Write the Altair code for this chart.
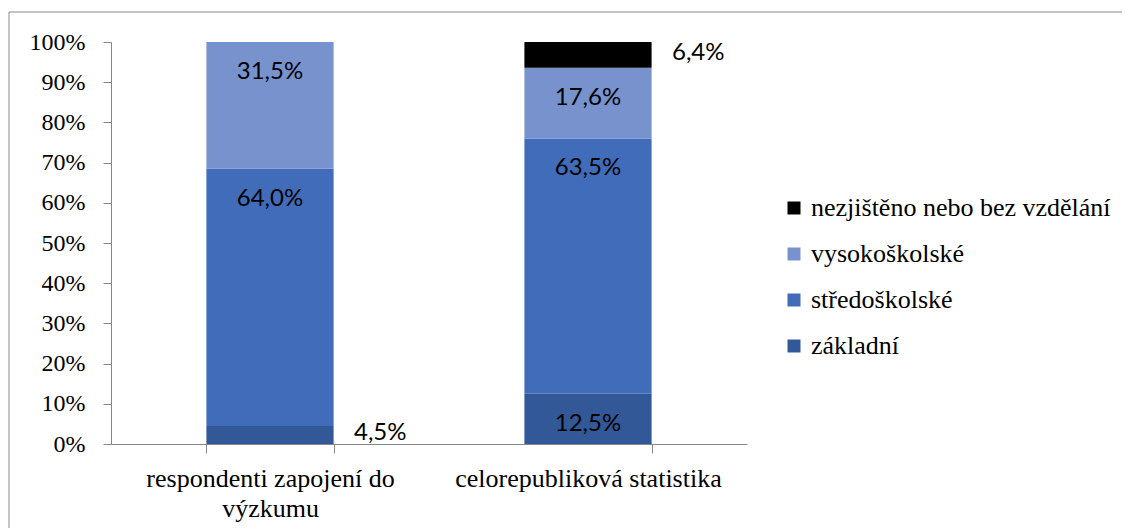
import altair as alt
import pandas as pd

categories = ["respondenti zapojení do výzkumu", "celorepubliková statistika"]
levels = ["základní", "středoškolské", "vysokoškolské", "nezjištěno nebo bez vzdělání"]  # bottom -> top
values_respondenti = [4.5, 64.0, 31.5, 0.0]
values_celorep = [12.5, 63.5, 17.6, 6.4]
colors = ["#325898", "#406CB9", "#7892CE", "#000000"]
y_ticks = [0, 10, 20, 30, 40, 50, 60, 70, 80, 90, 100]

rows = []
for cat, vals in zip(categories, [values_respondenti, values_celorep]):
    for i, (lev, v) in enumerate(zip(levels, vals)):
        if v > 0:
            rows.append({"cat": cat, "level": lev, "value": v, "rank": i})
df = pd.DataFrame(rows)

AXIS_GREY = "#868686"
SERIF = "Liberation Serif"
SANS = "Lato"

W, H = 636, 402

base = alt.Chart(df).transform_stack(
    stack="value", groupby=["cat"], sort=[alt.SortField("rank", order="ascending")],
    as_=["y0", "y1"]
).transform_calculate(
    lab="replace(format(datum.value, '.1f'), '.', ',') + '%'",
    ymid="(datum.y0 + datum.y1) / 2",
)

xenc = alt.X(
    "cat:N",
    sort=categories,
    scale=alt.Scale(paddingInner=0.6, paddingOuter=0.3),
    axis=alt.Axis(
        title=None, labelAngle=0, labelFont=SERIF, labelFontSize=26, labelColor="black",
        labelExpr="datum.label == 'respondenti zapojení do výzkumu' ? ['respondenti zapojení do', 'výzkumu'] : datum.label",
        labelLineHeight=30, labelPadding=12, tickSize=9, tickBand="extent", labelLimit=500,
        domainColor=AXIS_GREY, tickColor=AXIS_GREY, labelBaseline="top",
    ),
)

bars = base.mark_bar(stroke=None).encode(
    x=xenc,
    y=alt.Y(
        "y0:Q",
        scale=alt.Scale(domain=[0, 100], nice=False),
        axis=alt.Axis(
            title=None, values=y_ticks, labelExpr="datum.value + '%'", grid=False,
            labelFont=SERIF, labelFontSize=24, labelColor="black", labelPadding=18,
            tickSize=8, domainColor=AXIS_GREY, tickColor=AXIS_GREY,
        ),
    ),
    y2="y1:Q",
    color=alt.Color(
        "level:N",
        scale=alt.Scale(domain=levels[::-1], range=colors[::-1]),
        legend=alt.Legend(
            title=None, orient="none", legendX=670, legendY=153, symbolType="square",
            symbolSize=169, symbolStrokeWidth=0, labelFont=SERIF, labelFontSize=26,
            labelColor="black", rowPadding=20, labelOffset=4, labelLimit=500,
        ),
    ),
)

inside = base.transform_filter("datum.value >= 10").mark_text(
    font=SANS, fontSize=24, color="black", baseline="alphabetic", align="center", dy=37
).encode(x=alt.X("cat:N", sort=categories), y=alt.Y("y1:Q"), text="lab:N")

outside = base.transform_filter("datum.value < 10").mark_text(
    font=SANS, fontSize=24, color="black", baseline="middle", align="left", dx=84, dy=-2
).encode(x=alt.X("cat:N", sort=categories), y=alt.Y("ymid:Q"), text="lab:N")

border = alt.Chart(pd.DataFrame({"a": [0]})).mark_rect(
    fill=None, stroke="#898989", strokeWidth=1
).encode(x=alt.value(-102), x2=alt.value(1100), y=alt.value(-30), y2=alt.value(600))

chart = alt.layer(border, bars, inside, outside).properties(
    width=W, height=H,
    autosize=alt.AutoSizeParams(type="none"),
    padding={"left": 103, "top": 34, "right": 375, "bottom": 84},
    background="white",
).configure_view(strokeWidth=0)

chart.save("out.html", embed_options={"renderer": "svg", "actions": False})
